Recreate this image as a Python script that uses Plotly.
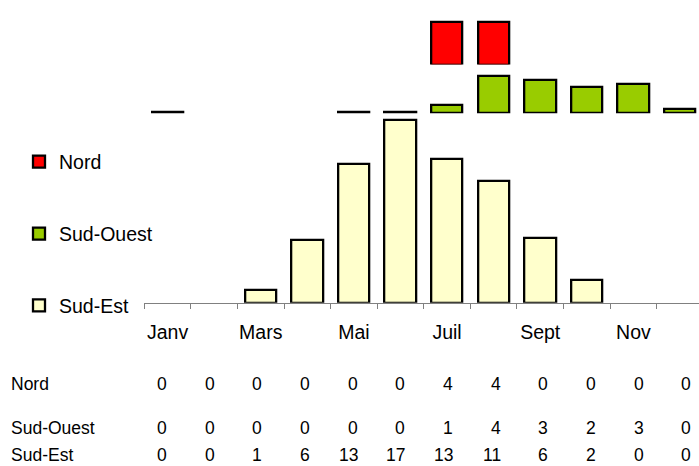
import plotly.graph_objects as go

# ---------------- data ----------------
months = ["Janv", "Févr", "Mars", "Avr", "Mai", "Juin",
          "Juil", "Août", "Sept", "Oct", "Nov", "Déc"]
series_names = ["Nord", "Sud-Ouest", "Sud-Est"]

# bar heights (None = no bar drawn)
nord_bars = [None, None, None, None, None, None, 4.0, 4.0, None, None, None, None]
sud_ouest_bars = [0.08, None, None, None, 0.08, 0.08, 0.78, 3.52, 3.06, 2.42, 2.76, 0.42]
sud_est_bars = [None, None, 1.21, 5.82, 12.96, 17.07, 13.39, 11.34, 6.07, 2.12, None, None]

# values printed in the table under the chart
nord_table = [0, 0, 0, 0, 0, 0, 4, 4, 0, 0, 0, 0]
sud_ouest_table = [0, 0, 0, 0, 0, 0, 1, 4, 3, 2, 3, 0]
sud_est_table = [0, 0, 1, 6, 13, 17, 13, 11, 6, 2, 0, 0]

colors = {"Nord": "#FF0000", "Sud-Ouest": "#99CC00", "Sud-Est": "#FFFFCC"}

# ---------------- layout helpers ----------------
W, H = 699, 466
PX_PER_UNIT = 10.7
CAT_W = 46.58
X_LEFT = 144.3


def dom(bottom_px, top_px):
    return [(H - bottom_px) / H, (H - top_px) / H]


def yrange(bottom_px, top_px):
    return [0, (bottom_px - top_px) / PX_PER_UNIT]


panels = {  # (baseline px, top px)
    "Sud-Est": (302.7, 112.0),
    "Sud-Ouest": (113.2, 70.0),
    "Nord": (64.5, 14.0),
}

FONT = "Liberation Sans, Arial, sans-serif"

fig = go.Figure()
x = list(range(len(months)))
trace_data = [("Nord", nord_bars, "y3"), ("Sud-Ouest", sud_ouest_bars, "y2"),
              ("Sud-Est", sud_est_bars, "y")]
for name, vals, yax in trace_data:
    fig.add_trace(go.Bar(
        x=x, y=vals, name=name, yaxis=yax, xaxis="x",
        width=0.675, legendgroup=name,
        marker=dict(color=colors[name], line=dict(color="black", width=2.3)),
        hoverinfo="skip",
    ))

x_max = 11.5 - (X_LEFT + 12 * CAT_W - W) / CAT_W

fig.update_layout(
    width=W, height=H,
    margin=dict(l=0, r=0, t=0, b=0),
    paper_bgcolor="white", plot_bgcolor="white",
    showlegend=True,
    bargap=0,
    xaxis=dict(
        domain=[X_LEFT / W, 1], range=[-0.5, x_max],
        anchor="y",
        showgrid=False, zeroline=False,
        showline=True, linecolor="#808080", linewidth=1,
        tickmode="array", tickvals=x[::2], ticktext=months[::2],
        ticks="", ticklabelstandoff=12,
        tickfont=dict(family=FONT, size=19.5, color="black"),
        minor=dict(tickmode="linear", tick0=-0.5, dtick=1, ticks="outside",
                   ticklen=5, tickcolor="#808080", tickwidth=1, showgrid=False),
    ),
    yaxis=dict(domain=dom(*panels["Sud-Est"]), range=yrange(*panels["Sud-Est"]),
               visible=False, anchor="x"),
    yaxis2=dict(domain=dom(*panels["Sud-Ouest"]), range=yrange(*panels["Sud-Ouest"]),
                visible=False, anchor="x"),
    yaxis3=dict(domain=dom(*panels["Nord"]), range=yrange(*panels["Nord"]),
                visible=False, anchor="x"),
    legend=dict(
        x=19 / W, y=1 - 142.5 / H, xanchor="left", yanchor="top",
        traceorder="grouped", tracegroupgap=43.5,
        font=dict(family=FONT, size=19.5, color="black"),
        bgcolor="rgba(0,0,0,0)", borderwidth=0,
    ),
)

# ---------------- data table (text under the chart) ----------------
row_y_px = {"Nord": 383.7, "Sud-Ouest": 427.5, "Sud-Est": 454.5}
table_rows = [("Nord", nord_table), ("Sud-Ouest", sud_ouest_table), ("Sud-Est", sud_est_table)]
COL_RIGHT0 = 169.0
COL_STEP = 47.67
table_font = dict(family="Liberation Sans Narrow, Liberation Sans, Arial, sans-serif",
                  size=17.5, color="black")
for name, vals in table_rows:
    ypos = 1 - row_y_px[name] / H
    fig.add_annotation(x=8.5 / W, y=ypos, xref="paper", yref="paper",
                       text=name, showarrow=False, xanchor="left", yanchor="middle",
                       font=table_font)
    for i, v in enumerate(vals):
        fig.add_annotation(x=(COL_RIGHT0 + COL_STEP * i) / W, y=ypos,
                           xref="paper", yref="paper", text=str(v), showarrow=False,
                           xanchor="right", yanchor="middle", font=table_font)

fig.write_html("out.html", config={"displayModeBar": False},
               post_script="document.body.style.margin='0';")
